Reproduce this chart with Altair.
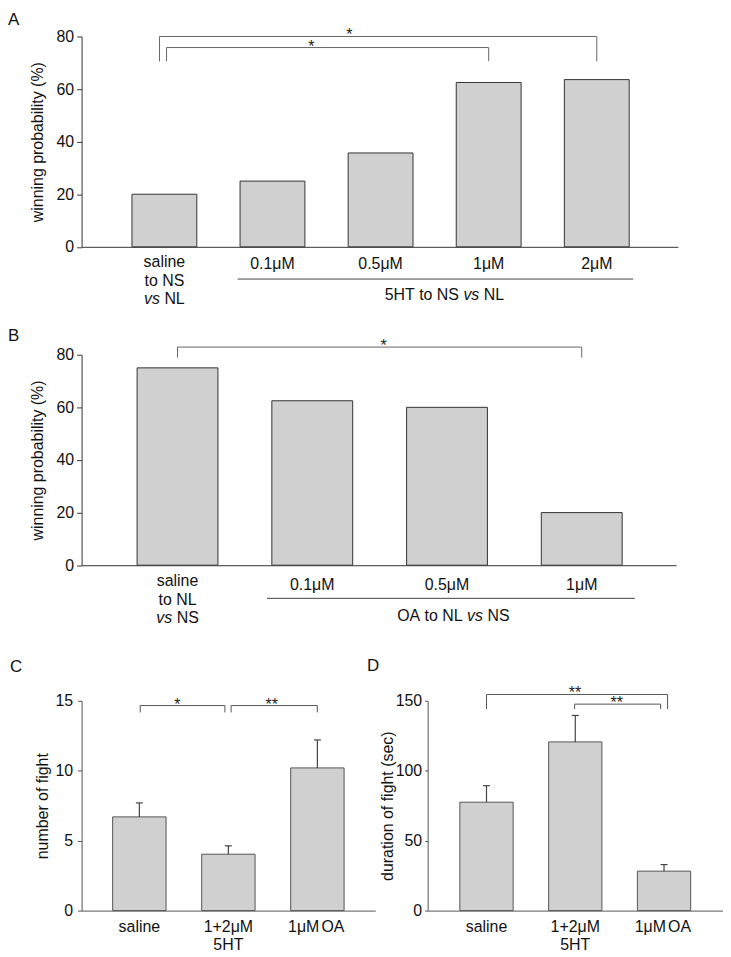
import re
import altair as alt
import pandas as pd

FONT = "Liberation Sans"

# ---------------- data ----------------
# Panel A
A_cats = ["saline", "0.1μM", "0.5μM", "1μM", "2μM"]
A_vals = [20.0, 25.0, 35.7, 62.5, 63.6]
A_first_lines = ["saline", "to NS", "_vs_ NL"]
A_group = "5HT to NS _vs_ NL"
A_yticks = [0, 20, 40, 60, 80]
A_brackets = [(-0.045, 4.0, 80.0, 70.5), (0.02, 3.0, 75.8, 70.6)]
A_stars = [(1.71, 80.0, "*"), (1.36, 75.8, "*")]

# Panel B
B_cats = ["saline", "0.1μM", "0.5μM", "1μM"]
B_vals = [75.0, 62.5, 60.0, 20.0]
B_first_lines = ["saline", "to NL", "_vs_ NS"]
B_group = "OA to NL _vs_ NS"
B_yticks = [0, 20, 40, 60, 80]
B_brackets = [(0.0, 3.0, 82.9, 78.9)]
B_stars = [(1.53, 82.9, "*")]

# Panel C
C_cats = [["saline"], ["1+2μM", "5HT"], ["1μM OA"]]
C_vals = [6.7, 4.03, 10.2]
C_err = [1.0, 0.6, 2.0]
C_yticks = [0, 5, 10, 15]
C_brackets = [(0.01, 0.961, 14.66, 14.17), (1.031, 1.999, 14.66, 14.17)]
C_stars = [(0.427, 14.66, "*"), (1.488, 14.66, "**")]

# Panel D
D_cats = [["saline"], ["1+2μM", "5HT"], ["1μM OA"]]
D_vals = [77.5, 120.6, 28.2]
D_err = [11.8, 18.9, 4.7]
D_yticks = [0, 50, 100, 150]
D_brackets = [(0.0, 2.04, 154.5, 144.1), (0.993, 1.962, 147.6, 144.1)]
D_stars = [(0.997, 154.5, "**"), (1.466, 147.6, "**")]

# ---------------- helpers ----------------
CW = {" ": 0.278, "v": 0.5, "s": 0.5, "N": 0.722, "L": 0.556, "S": 0.667,
      "5": 0.556, "H": 0.722, "T": 0.611, "t": 0.278, "o": 0.556,
      "O": 0.778, "A": 0.667}
FS = 16


def tw(s):
    return sum(CW.get(ch, 0.556) for ch in s) * FS


def parse(line):
    segs = []
    for k, part in enumerate(line.split("_")):
        for tok in re.split(r"( )", part):
            if tok:
                segs.append((tok, k % 2 == 1))
    return segs


def add_line(items, line, cx, y, ppx):
    segs = parse(line)
    total = sum(tw(t) for t, _ in segs)
    pos = -total / 2
    for t, it in segs:
        w = tw(t)
        if t.strip():
            items.append(dict(x=cx + (pos + w / 2) / ppx, y=y, text=t, italic=it))
        pos += w


def panel(vals, err, xdom, width, height, ymax, yticks, ytitle, items,
          brackets, stars, letter, letter_xy, rule=None, style=None):
    ppx = width / (xdom[1] - xdom[0])
    xs = alt.Scale(domain=xdom, nice=False, zero=False)
    ys = alt.Scale(domain=[0, ymax], nice=False, zero=False)
    xaxis = alt.Axis(labels=False, ticks=False, grid=False, title=None,
                     domainColor=style["axis"])
    yaxis = alt.Axis(values=yticks, title=ytitle, grid=False,
                     tickSize=style["tick"], labelPadding=style["lpad"],
                     titlePadding=style["tpad"], domainColor=style["axis"],
                     tickColor=style["axis"])

    def X(f):
        return alt.X(f, type="quantitative", scale=xs, axis=xaxis)

    def Y(f):
        return alt.Y(f, type="quantitative", scale=ys, axis=yaxis)

    n = len(vals)
    bars_df = pd.DataFrame({
        "idx": list(range(n)), "val": vals,
        "lo": [i - 0.3 for i in range(n)], "hi": [i + 0.3 for i in range(n)],
        "zero": [0] * n,
    })
    layers = [
        alt.Chart(bars_df).mark_bar(fill="#d0d0d0", stroke=style["bar"],
                                     strokeWidth=1).encode(
            x=X("lo"), x2="hi", y=Y("val"), y2="zero")
    ]
    if err is not None:
        ed = pd.DataFrame({
            "idx": list(range(n)), "val": vals,
            "top": [v + e for v, e in zip(vals, err)],
            "c1": [i - 3.5 / ppx for i in range(n)],
            "c2": [i + 3.5 / ppx for i in range(n)],
        })
        layers.append(alt.Chart(ed).mark_rule(color="#444", strokeWidth=1.2).encode(
            x=X("idx"), y=Y("val"), y2="top"))
        layers.append(alt.Chart(ed).mark_rule(color="#444", strokeWidth=1.2).encode(
            x=X("c1"), x2="c2", y=Y("top")))
    segs = []
    for x1, x2, top, bot in brackets:
        segs += [(x1, x1, bot, top), (x1, x2, top, top), (x2, x2, top, bot)]
    bdf = pd.DataFrame(segs, columns=["x1", "x2", "y1", "y2"])
    layers.append(alt.Chart(bdf).mark_rule(color=style["br"], strokeWidth=1).encode(
        x=X("x1"), x2="x2", y=Y("y1"), y2="y2"))
    sdf = pd.DataFrame(stars, columns=["x", "y", "t"])
    layers.append(alt.Chart(sdf).mark_text(fontSize=16, baseline="alphabetic",
                                           dy=4, color="#222").encode(
        x=X("x"), y=Y("y"), text="t:N"))
    if rule is not None:
        rdf = pd.DataFrame([rule], columns=["x1", "x2", "y"])
        layers.append(alt.Chart(rdf).mark_rule(color="#444", strokeWidth=1).encode(
            x=X("x1"), x2="x2", y=Y("y")))
    idf = pd.DataFrame(items)
    for it in (False, True):
        sub = idf[idf["italic"] == it]
        if len(sub):
            layers.append(alt.Chart(sub).mark_text(
                fontSize=FS, baseline="middle", align="center", color="#111",
                fontStyle="italic" if it else "normal").encode(
                x=X("x"), y=Y("y"), text="text:N"))
    ldf = pd.DataFrame({"t": [letter]})
    layers.append(alt.Chart(ldf).mark_text(
        fontSize=17, align="left", baseline="top", color="#111").encode(
        x=alt.value(letter_xy[0]), y=alt.value(letter_xy[1]), text="t:N"))
    return alt.layer(*layers).properties(width=width, height=height)


def spacer(h):
    return alt.Chart(pd.DataFrame({"a": [0]})).mark_point(opacity=0).encode(
        x=alt.X("a:Q", axis=None), y=alt.Y("a:Q", axis=None)
    ).properties(width=1, height=h)


AB_style = dict(axis="#333", bar="#333", br="#666", tick=5, lpad=3, tpad=11)
C_style = dict(axis="#555", bar="#555", br="#555", tick=4, lpad=5, tpad=4)
D_style = dict(axis="#555", bar="#555", br="#555", tick=3, lpad=3, tpad=0)

# ---- Panel A ----
A_w, A_h = 599.6, 211.5
A_dom = [-0.766, 4.75]
A_ppx, A_ppy = A_w / (A_dom[1] - A_dom[0]), A_h / 80
itemsA = []
for k, ln in enumerate(A_first_lines):
    add_line(itemsA, ln, 0, -(15.7 + 18.3 * k) / A_ppy, A_ppx)
for i, c in enumerate(A_cats[1:], start=1):
    add_line(itemsA, c, i, -17.7 / A_ppy, A_ppx)
add_line(itemsA, A_group, 2.59, -48.7 / A_ppy, A_ppx)
chartA = panel(A_vals, None, A_dom, A_w, A_h, 80, A_yticks,
               "winning probability (%)", itemsA, A_brackets, A_stars, "A",
               (-74, -24.5), rule=(0.678, 4.337, -32.4 / A_ppy), style=AB_style)

# ---- Panel B ----
B_w, B_h = 597.8, 211.7
B_dom = [-0.712, 3.70]
B_ppx, B_ppy = B_w / (B_dom[1] - B_dom[0]), B_h / 80
itemsB = []
for k, ln in enumerate(B_first_lines):
    add_line(itemsB, ln, 0, -(16.3 + 18.5 * k) / B_ppy, B_ppx)
for i, c in enumerate(B_cats[1:], start=1):
    add_line(itemsB, c, i, -19.6 / B_ppy, B_ppx)
add_line(itemsB, B_group, 2.047, -51.3 / B_ppy, B_ppx)
chartB = panel(B_vals, None, B_dom, B_w, B_h, 80, B_yticks,
               "winning probability (%)", itemsB, B_brackets, B_stars, "B",
               (-74, -27), rule=(0.664, 3.394, -33.3 / B_ppy), style=AB_style)

# ---- Panel C ----
C_w, C_h = 295.3, 211.0
C_dom = [-0.649, 2.65]
C_ppx, C_ppy = C_w / (C_dom[1] - C_dom[0]), C_h / 15
itemsC = []
for i, lines in enumerate(C_cats):
    for k, ln in enumerate(lines):
        add_line(itemsC, ln, i, -(16.7 + 18.3 * k) / C_ppy, C_ppx)
chartC = panel(C_vals, C_err, C_dom, C_w, C_h, 15, C_yticks,
               "number of fight", itemsC, C_brackets, C_stars, "C",
               (-72, -42), style=C_style)

# ---- Panel D ----
D_w, D_h = 296.7, 211.0
D_dom = [-0.663, 2.661]
D_ppx, D_ppy = D_w / (D_dom[1] - D_dom[0]), D_h / 150
itemsD = []
for i, lines in enumerate(D_cats):
    for k, ln in enumerate(lines):
        add_line(itemsD, ln, i, -(16.7 + 18.3 * k) / D_ppy, D_ppx)
chartD = panel(D_vals, D_err, D_dom, D_w, D_h, 150, D_yticks,
               "duration of fight (sec)", itemsD, D_brackets, D_stars, "D",
               (-61, -43), style=D_style)

bottom = alt.hconcat(chartC, chartD, spacing=52, bounds="flush")
chart = alt.vconcat(chartA, spacer(108.0), chartB, spacer(135.3), bottom,
                    spacing=0, bounds="flush").properties(
    padding=0
).configure_view(stroke=None).configure_axis(
    labelFont=FONT, titleFont=FONT, labelFontSize=16, titleFontSize=16,
    titleFontWeight="normal", labelColor="#111", titleColor="#111",
).configure_text(font=FONT)

chart.save("out.html", embed_options={"renderer": "svg", "actions": False})
